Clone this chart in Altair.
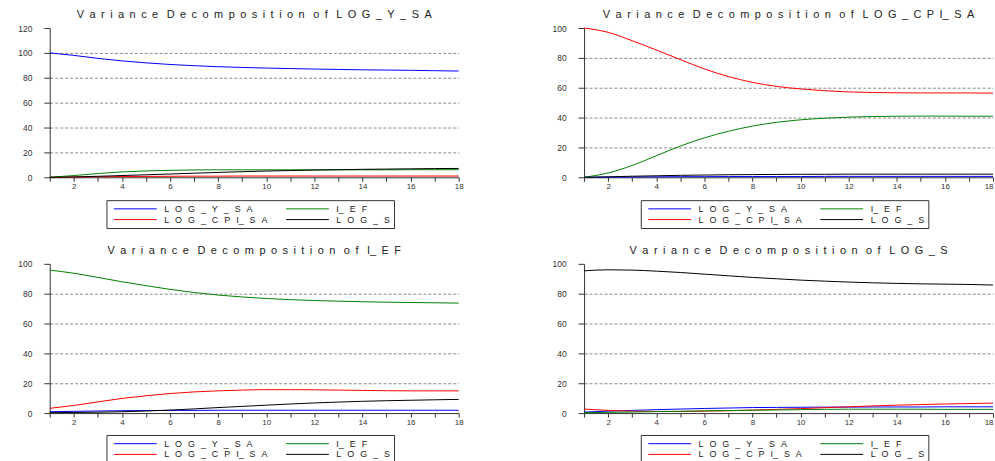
import altair as alt
import pandas as pd

# ---------------- data ----------------
periods = list(range(1, 19))
series_names = ["LOG_Y_SA", "LOG_CPI_SA", "I_EF", "LOG_S"]  # legend fills column by column
series_colors = ["#0000FF", "#FF0000", "#008000", "#000000"]

SP = "\u2002\u2006"  # letter gap used in the legend labels
legend_labels = [
    SP.join("LOG_Y_SA"),
    SP.join("LOG_CPI") + "_" + SP + "S" + SP + "A",
    "I_" + SP + "E" + SP + "F",
    SP.join("LOG_S"),
]

panel_titles = [
    "Variance Decomposition of LOG_Y_SA",
    "Variance Decomposition of LOG_CPI_SA",
    "Variance Decomposition of I_EF",
    "Variance Decomposition of LOG_S",
]
panel_ymax = [120, 100, 100, 100]

# Panel 1: Variance Decomposition of LOG_Y_SA
p1_log_y_sa = [100, 98.0, 95.6, 93.6, 92.0, 90.7, 89.7, 88.9, 88.3, 87.8, 87.4, 87.0, 86.7, 86.4, 86.2, 86.0, 85.7, 85.4]
p1_i_ef = [0, 1.4, 3.0, 4.3, 5.1, 5.6, 5.9, 6.0, 6.0, 6.0, 6.0, 6.0, 6.0, 6.0, 6.0, 6.1, 6.1, 6.1]
p1_log_cpi_sa = [0, 0.2, 0.4, 0.6, 0.7, 0.8, 0.9, 0.9, 1.0, 1.0, 1.0, 1.0, 1.0, 1.0, 1.0, 1.0, 1.0, 1.0]
p1_log_s = [0, 0.3, 0.8, 1.4, 2.0, 2.6, 3.3, 3.9, 4.5, 5.0, 5.4, 5.8, 6.1, 6.4, 6.6, 6.8, 7.0, 7.1]

# Panel 2: Variance Decomposition of LOG_CPI_SA
p2_log_y_sa = [0, 0.1, 0.2, 0.3, 0.4, 0.4, 0.5, 0.5, 0.5, 0.5, 0.6, 0.6, 0.6, 0.6, 0.6, 0.6, 0.6, 0.6]
p2_i_ef = [0, 2.9, 7.9, 14.4, 20.9, 26.4, 30.8, 34.3, 36.8, 38.5, 39.6, 40.3, 40.7, 40.9, 41.0, 41.0, 40.9, 40.9]
p2_log_cpi_sa = [100, 97.1, 91.5, 85.3, 78.9, 72.6, 67.5, 63.6, 60.9, 59.2, 58.0, 57.2, 56.8, 56.6, 56.5, 56.5, 56.5, 56.4]
p2_log_s = [0, 0.3, 0.7, 1.0, 1.3, 1.5, 1.7, 1.8, 1.9, 2.0, 2.0, 2.1, 2.1, 2.1, 2.1, 2.1, 2.1, 2.1]

# Panel 3: Variance Decomposition of I_EF
p3_log_y_sa = [0.9, 1.2, 1.4, 1.6, 1.7, 1.8, 1.8, 1.9, 1.9, 1.9, 1.9, 1.9, 1.9, 1.9, 1.9, 1.9, 1.9, 1.9]
p3_i_ef = [95.8, 93.7, 90.9, 88.0, 85.4, 82.9, 80.8, 79.1, 77.8, 76.8, 76.0, 75.4, 75.0, 74.6, 74.3, 74.1, 73.9, 73.7]
p3_log_cpi_sa = [3.2, 5.1, 7.5, 9.8, 11.6, 13.1, 14.2, 14.9, 15.4, 15.7, 15.7, 15.6, 15.4, 15.2, 15.0, 14.9, 14.9, 14.9]
p3_log_s = [0.3, 0.4, 0.6, 0.9, 1.4, 2.0, 2.8, 3.7, 4.5, 5.3, 6.1, 6.8, 7.4, 7.9, 8.3, 8.6, 8.9, 9.2]

# Panel 4: Variance Decomposition of LOG_S
p4_log_y_sa = [0.7, 1.3, 1.8, 2.3, 2.7, 3.1, 3.4, 3.7, 3.8, 3.9, 4.0, 4.0, 4.1, 4.1, 4.1, 4.2, 4.2, 4.2]
p4_i_ef = [0.3, 0.5, 0.7, 1.0, 1.2, 1.5, 1.7, 1.9, 2.1, 2.3, 2.5, 2.6, 2.6, 2.6, 2.6, 2.5, 2.5, 2.5]
p4_log_cpi_sa = [2.7, 1.8, 1.3, 1.1, 1.1, 1.3, 1.6, 2.0, 2.5, 3.0, 3.6, 4.2, 4.8, 5.3, 5.7, 6.1, 6.4, 6.7]
p4_log_s = [95.3, 96.0, 95.8, 95.1, 94.2, 93.1, 92.0, 90.9, 90.0, 89.1, 88.4, 87.8, 87.3, 86.9, 86.6, 86.4, 86.2, 85.8]

# values per panel, in the order of series_names
panel_values = [
    [p1_log_y_sa, p1_log_cpi_sa, p1_i_ef, p1_log_s],
    [p2_log_y_sa, p2_log_cpi_sa, p2_i_ef, p2_log_s],
    [p3_log_y_sa, p3_log_cpi_sa, p3_i_ef, p3_log_s],
    [p4_log_y_sa, p4_log_cpi_sa, p4_i_ef, p4_log_s],
]

FONT = "Liberation Sans"
TSP = "\u2002"


def spaced_title(text):
    words = [TSP.join(w) for w in text.split(" ")]
    return (TSP + " ").join(words).replace("I" + TSP + "_", "I_")


label_map = "{" + ", ".join(f"'{n}': '{l}'" for n, l in zip(series_names, legend_labels)) + "}"


def panel(idx):
    ymax = panel_ymax[idx]
    right = idx % 2 == 1
    bottom = idx >= 2
    rows = []
    for name, vals in zip(series_names, panel_values[idx]):
        for p, v in zip(periods, vals):
            rows.append({"period": p, "series": name, "value": v})
    df = pd.DataFrame(rows)

    x_axis = alt.Axis(
        values=periods,
        labelExpr="datum.value % 2 == 0 ? datum.label : ''",
        grid=False,
        tickSize=4,
        labelPadding=1,
        labelFontSize=8,
        labelFlush=right,
        title=None,
    )
    y_axis = alt.Axis(
        values=list(range(0, ymax + 1, 20)),
        grid=True,
        gridDash=[3, 2],
        gridColor="#8a8a8a",
        gridOpacity={"condition": {"test": f"datum.value >= {ymax} || datum.value <= 0", "value": 0}, "value": 1},
        tickSize=6,
        labelPadding=12,
        labelFontSize=8.5,
        title=None,
    )
    legend = alt.Legend(
        orient="none",
        legendX=57,
        legendY=172 if bottom else 173,
        columns=2,
        title=None,
        symbolType="M-1,0H7.6",
        symbolSize=100,
        symbolStrokeWidth=1,
        symbolOffset=4,
        labelOffset=40,
        labelFontSize=9,
        labelFont=FONT,
        labelColor="#222",
        labelExpr=label_map + "[datum.label]",
        padding=3,
        rowPadding=0,
        columnPadding=13,
        strokeColor="#333",
    )
    chart = (
        alt.Chart(df)
        .mark_line(strokeWidth=1, interpolate="monotone")
        .encode(
            x=alt.X("period:Q", scale=alt.Scale(domain=[1, 18], nice=False, zero=False), axis=x_axis),
            y=alt.Y("value:Q", scale=alt.Scale(domain=[0, ymax], nice=False), axis=y_axis),
            color=alt.Color(
                "series:N",
                scale=alt.Scale(domain=series_names, range=series_colors),
                sort=series_names,
                legend=legend,
            ),
        )
        .properties(
            width=411,
            height=150,
            title=alt.TitleParams(
                spaced_title(panel_titles[idx]),
                font=FONT,
                fontSize=11,
                fontWeight="normal",
                color="#222",
                anchor="middle",
                frame="group",
                offset=4,
            ),
        )
    )
    return chart


chart = (
    alt.concat(*[panel(i) for i in range(4)], columns=2, spacing={"column": 88, "row": 16})
    .resolve_scale(color="independent", x="independent", y="independent")
    .resolve_legend(color="independent")
    .properties(padding={"left": 17, "top": 8, "right": 0, "bottom": 0})
    .configure_view(stroke=None)
    .configure_axis(
        domainColor="#333",
        tickColor="#333",
        labelColor="#333",
        labelFont=FONT,
    )
)

chart.save("out.html", embed_options={"renderer": "svg", "actions": False})
